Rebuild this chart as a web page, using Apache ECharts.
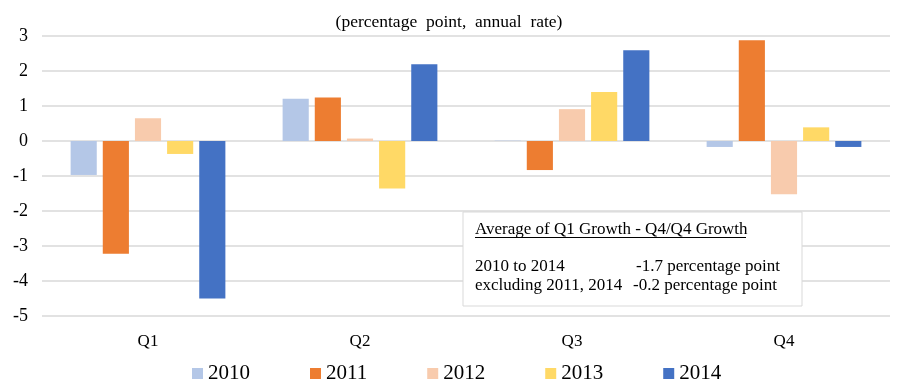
<!DOCTYPE html>
<html><head><meta charset="utf-8">
<script src="https://cdn.jsdelivr.net/npm/echarts@6/dist/echarts.min.js"></script>
<style>html,body{margin:0;padding:0;background:#fff}#c{width:898px;height:392px}</style>
</head><body><div id="c"></div>
<script>
const categories = ['Q1','Q2','Q3','Q4'];
const years = ['2010','2011','2012','2013','2014'];
const s2010 = [-0.97, 1.21, 0.01, -0.17];
const s2011 = [-3.22, 1.24, -0.83, 2.88];
const s2012 = [0.65, 0.07, 0.91, -1.52];
const s2013 = [-0.37, -1.36, 1.40, 0.39];
const s2014 = [-4.50, 2.19, 2.59, -0.17];
const yTicks = [-5,-4,-3,-2,-1,0,1,2,3];
const colors = ['#B4C7E7','#ED7D31','#F8CBAD','#FFD966','#4472C4'];
const seriesData = [s2010, s2011, s2012, s2013, s2014];
const font = '"Liberation Serif","Times New Roman",serif';

const chart = echarts.init(document.getElementById('c'));
chart.setOption({
  animation: false,
  textStyle: {fontFamily: font},
  title: {text: '(percentage  point,  annual  rate)', left: 'center', top: 8,
    textStyle: {fontFamily: font, fontSize: 17.5, fontWeight: 'normal', color: '#000'}},
  grid: {left: 42, right: 8, top: 36, bottom: 76},
  legend: {bottom: 3, left: 187, itemWidth: 11, itemHeight: 11, itemGap: 60,
    icon: 'rect', textStyle: {fontFamily: font, fontSize: 21, color: '#000'},
    data: years},
  xAxis: {type: 'category', data: categories,
    axisLine: {show: false}, axisTick: {show: false},
    axisLabel: {margin: 17, color: '#000', fontSize: 17, fontFamily: font}},
  yAxis: {type: 'value', min: -5, max: 3, interval: 1,
    axisLine: {show: false}, axisTick: {show: false},
    axisLabel: {color: '#000', fontSize: 18, fontFamily: font, margin: 14},
    splitLine: {lineStyle: {color: '#d9d9d9', width: 1.5}}},
  series: years.map((y, i) => ({
    name: y, type: 'bar', data: seriesData[i],
    itemStyle: {color: colors[i]},
    barGap: '23%', barCategoryGap: '27%'
  })),
  graphic: [
    {type: 'rect', shape: {x: 463, y: 212, width: 339, height: 94},
      style: {fill: '#fff', stroke: '#d9d9d9', lineWidth: 1}, z: 100},
    {type: 'text', x: 475, y: 221, z: 101,
      style: {text: 'Average of Q1 Growth - Q4/Q4 Growth', fontFamily: font, fontSize: 17, fill: '#000'}},
    {type: 'line', shape: {x1: 475, y1: 237.5, x2: 746, y2: 237.5}, z: 101,
      style: {stroke: '#000', lineWidth: 1}},
    {type: 'text', x: 475, y: 258, z: 101,
      style: {text: '2010 to 2014', fontFamily: font, fontSize: 17, fill: '#000'}},
    {type: 'text', x: 636, y: 258, z: 101,
      style: {text: '-1.7 percentage point', fontFamily: font, fontSize: 17, fill: '#000'}},
    {type: 'text', x: 475, y: 277, z: 101,
      style: {text: 'excluding 2011, 2014', fontFamily: font, fontSize: 17, fill: '#000'}},
    {type: 'text', x: 633, y: 277, z: 101,
      style: {text: '-0.2 percentage point', fontFamily: font, fontSize: 17, fill: '#000'}}
  ]
});
</script></body></html>
